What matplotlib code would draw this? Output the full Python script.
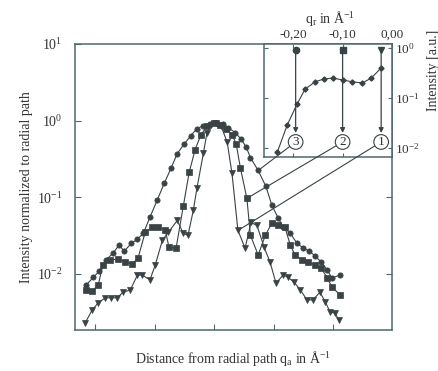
import matplotlib
matplotlib.use("Agg")
import matplotlib.pyplot as plt
from matplotlib.patches import ConnectionPatch
from matplotlib.ticker import NullLocator

plt.rcParams["font.family"] = "serif"
plt.rcParams["font.serif"] = ["Liberation Serif", "DejaVu Serif"]
plt.rcParams["mathtext.fontset"] = "custom"
plt.rcParams["mathtext.rm"] = "Liberation Serif"
plt.rcParams["mathtext.it"] = "Liberation Serif:italic"
plt.rcParams["axes.unicode_minus"] = False

# --- azimuthal profiles, q_a in 1/A, intensity normalised to the radial path ---
# profile 1 (triangles, narrowest)
q_1 = [-0.217, -0.205, -0.195, -0.183, -0.173, -0.163, -0.153, -0.141, -0.129, -0.121,
       -0.108, -0.099, -0.087, -0.077, -0.062, -0.052, -0.044, -0.035, -0.029, -0.018,
       -0.012, -0.005, 0.003, 0.012, 0.022, 0.030, 0.040, 0.052, 0.062, 0.072,
       0.084, 0.094, 0.104, 0.116, 0.124, 0.134, 0.145, 0.156, 0.166, 0.178,
       0.187, 0.195, 0.203, 0.210]
int_1 = [0.0023, 0.0034, 0.0042, 0.0049, 0.0049, 0.0049, 0.0058, 0.0062, 0.0097, 0.0097,
         0.0084, 0.0131, 0.0277, 0.035, 0.050, 0.034, 0.032, 0.068, 0.131, 0.38,
         0.70, 0.89, 0.94, 0.84, 0.52, 0.205, 0.037, 0.0218, 0.047, 0.043,
         0.0224, 0.0143, 0.0076, 0.0097, 0.0091, 0.0079, 0.0062, 0.0046, 0.0046, 0.0058,
         0.0043, 0.0032, 0.0031, 0.0025]

# profile 2 (squares)
q_2 = [-0.215, -0.205, -0.195, -0.187, -0.175, -0.161, -0.150, -0.138, -0.128, -0.116,
       -0.104, -0.094, -0.082, -0.076, -0.064, -0.052, -0.042, -0.032, -0.022, -0.012,
       0.0, 0.010, 0.020, 0.030, 0.037, 0.044, 0.055, 0.061, 0.074, 0.086,
       0.097, 0.108, 0.119, 0.128, 0.136, 0.148, 0.158, 0.170, 0.180, 0.190,
       0.198, 0.212]
int_2 = [0.0062, 0.0060, 0.0072, 0.0131, 0.0152, 0.0157, 0.0143, 0.0135, 0.0161, 0.035,
         0.041, 0.041, 0.037, 0.0224, 0.0218, 0.076, 0.211, 0.42, 0.66, 0.84,
         0.94, 0.89, 0.79, 0.66, 0.50, 0.245, 0.097, 0.032, 0.0177, 0.032,
         0.046, 0.043, 0.041, 0.0238, 0.0177, 0.0152, 0.0143, 0.0131, 0.0120, 0.0089,
         0.0068, 0.0053]

# profile 3 (circles, widest)
q_3 = [-0.215, -0.203, -0.193, -0.182, -0.170, -0.160, -0.151, -0.139, -0.129, -0.119,
       -0.108, -0.096, -0.084, -0.072, -0.062, -0.050, -0.039, -0.029, -0.018, -0.007,
       0.005, 0.015, 0.024, 0.035, 0.045, 0.054, 0.061, 0.074, 0.087, 0.097,
       0.108, 0.116, 0.128, 0.139, 0.150, 0.160, 0.170, 0.180, 0.190, 0.198,
       0.212]
int_3 = [0.0072, 0.0091, 0.0109, 0.0152, 0.0187, 0.0238, 0.0199, 0.0253, 0.0285, 0.034,
         0.055, 0.091, 0.152, 0.245, 0.373, 0.50, 0.64, 0.79, 0.86, 0.91,
         0.94, 0.91, 0.81, 0.70, 0.58, 0.45, 0.33, 0.224, 0.139, 0.079,
         0.053, 0.041, 0.034, 0.0253, 0.0218, 0.0199, 0.0171, 0.0143, 0.0113, 0.0089,
         0.0097]

# radial scan (inset), q_r in 1/A
q_r = [-0.232, -0.212, -0.192, -0.176, -0.156, -0.138, -0.120, -0.100, -0.080, -0.060,
       -0.042, -0.022]
int_r = [0.0083, 0.029, 0.076, 0.15, 0.21, 0.24, 0.25, 0.23, 0.21, 0.20, 0.25, 0.40]

# where each azimuthal profile was cut along the radial path
profile_labels = ["1", "2", "3"]
profile_q_r = [-0.022, -0.100, -0.195]
profile_markers = ["v", "s", "o"]
# point of each profile that the leader line points at
leader_idx = [26, 26, 27]

INK = "#394245"
FRAME = "#4e686d"
TEXT = "#333333"

fig = plt.figure(figsize=(4.39, 3.71), dpi=100)
ax = fig.add_axes([0.1708, 0.1105, 0.7221, 0.7709])

series = [(q_1, int_1), (q_2, int_2), (q_3, int_3)]
for (q, inten), m in zip(series, profile_markers):
    ax.plot(q, inten, color=INK, lw=0.8, marker=m, ms=3.8,
            mfc=INK, mec=INK, mew=0.5)

ax.set_yscale("log")
ax.set_ylim(10 ** -2.73, 10)
ax.set_xlim(-0.234, 0.299)
ax.set_xticks([-0.2, -0.1, 0.0, 0.1, 0.2])
ax.yaxis.set_minor_locator(NullLocator())
ax.tick_params(direction="in", length=4, width=0.8, color=FRAME,
               right=True, labelbottom=False, labelsize=10, pad=9,
               labelcolor=TEXT)
for sp in ax.spines.values():
    sp.set_color(FRAME)
    sp.set_linewidth(1.1)

ax.set_ylabel("Intensity normalized to radial path", fontsize=10, color=TEXT)
ax.yaxis.set_label_coords(-0.132, 0.5)
ax.set_xlabel("Distance from radial path q$_\\mathrm{a}$ in Å$^{-1}$",
              fontsize=10, color=TEXT)
ax.xaxis.set_label_coords(0.5, -0.066)

# --- inset: radial scan with the three cut positions ---
axin = fig.add_axes([0.6014, 0.5768, 0.2916, 0.3046])
axin.plot(q_r, int_r, color=INK, lw=0.8, marker="D", ms=2.6, mfc=INK, mec=INK)
axin.set_yscale("log")
axin.set_ylim(10 ** -2.18, 10 ** 0.08)
axin.set_xlim(-0.259, 0.0)
axin.set_xticks([-0.2, -0.1, 0.0])
axin.set_xticklabels(["-0,20", "-0,10", "0,00"])
axin.yaxis.set_minor_locator(NullLocator())
axin.tick_params(direction="in", length=3, width=0.8, color=FRAME,
                 top=True, bottom=True, left=True, right=True,
                 labeltop=True, labelbottom=False, labelleft=False, labelright=True,
                 labelsize=9.5, pad=2, labelcolor=TEXT)
for sp in axin.spines.values():
    sp.set_color(FRAME)
    sp.set_linewidth(1.1)
axin.xaxis.set_label_position("top")
axin.set_xlabel("q$_\\mathrm{r}$ in Å$^{-1}$", fontsize=10, color=TEXT)
axin.xaxis.set_label_coords(0.52, 1.19)
fig.text(0.988, 0.81, "Intensity [a.u.]", rotation=90, ha="center", va="center",
         fontsize=10, color=TEXT)

top_y, arrow_y, badge_y = 0.91, 0.02, 0.0132
for lab, qp, m, (q, inten), k in zip(profile_labels, profile_q_r, profile_markers,
                                      series, leader_idx):
    axin.annotate("", xy=(qp, arrow_y), xytext=(qp, top_y),
                  arrowprops=dict(arrowstyle="-|>", color=INK, lw=0.9,
                                  mutation_scale=7, shrinkA=0, shrinkB=0))
    axin.plot(qp, top_y, marker=m, ms=4.5, color=INK, mfc=INK, mec=INK,
              clip_on=False)
    axin.text(qp, badge_y, lab, ha="center", va="center", fontsize=9.5,
              color=TEXT, zorder=5,
              bbox=dict(boxstyle="circle,pad=0.1", fc="white", ec=INK, lw=0.8))
    con = ConnectionPatch(xyA=(qp, badge_y), coordsA=axin.transData,
                          xyB=(q[k], inten[k]), coordsB=ax.transData,
                          color=INK, lw=0.8, shrinkA=5.5, shrinkB=1.5)
    fig.add_artist(con)

fig.savefig("out.png", dpi=100)
